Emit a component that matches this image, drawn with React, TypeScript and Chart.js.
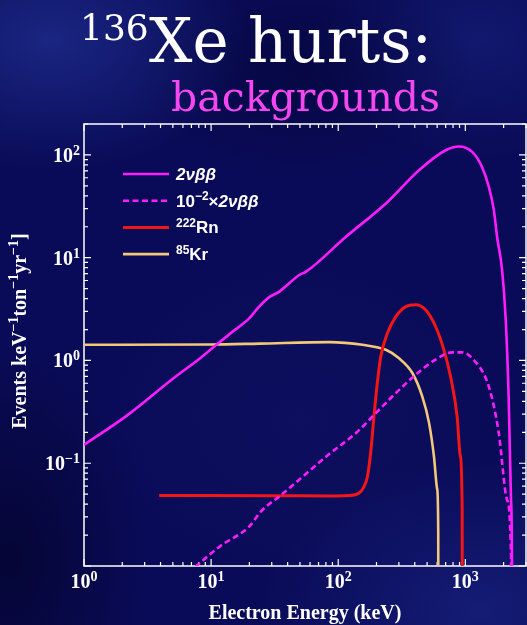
import { useEffect, useRef } from "react";
import { Chart, registerables } from "chart.js";

Chart.register(...registerables);

const WIDTH = 527;
const HEIGHT = 625;

// 2νββ spectrum of 136Xe: electron energy (keV) and rate (events keV^-1 ton^-1 yr^-1)
const twoNuEnergy = [1, 2.2, 5, 8.1, 11, 14.8, 20, 23.3, 27.9, 34.4, 49.4, 55.8, 115, 237, 432, 700, 889, 1132, 1352, 1528, 1675, 1776, 1945, 2078, 2194, 2287, 2328, 2345];
const twoNuRate = [0.151, 0.294, 0.665, 1.04, 1.42, 1.91, 2.58, 3.23, 4.04, 4.68, 6.79, 7.31, 16.0, 33.7, 71, 111, 121, 107, 76.4, 49.1, 29.2, 16.0, 7.61, 2.49, 0.416, 0.0443, 0.01, 0.00001];

// 2νββ spectrum scaled by 10^-2
const twoNuScaledEnergy = [7.5, 11.7, 20, 24, 27.1, 34.4, 85, 138, 198, 284, 406, 583, 789, 944, 1132, 1528, 1832, 2128, 2287, 2325];
const twoNuScaledRate = [0.0098, 0.0155, 0.0243, 0.0327, 0.038, 0.0475, 0.123, 0.197, 0.308, 0.482, 0.726, 1.02, 1.2, 1.2, 1.05, 0.56, 0.197, 0.044, 0.0123, 0.00001];

// 222Rn
const radonEnergy = [3.9, 10, 30, 85, 120, 145, 158, 170, 181, 191, 203, 216, 244, 284, 340, 406, 488, 583, 678, 764, 861, 914, 944, 948];
const radonRate = [0.0484, 0.0484, 0.0483, 0.048, 0.0485, 0.051, 0.058, 0.0748, 0.136, 0.286, 0.603, 1.09, 1.85, 2.67, 3.34, 3.48, 3.1, 2.14, 1.27, 0.7, 0.286, 0.117, 0.035, 0.00001];

// 85Kr
const kryptonEnergy = [1, 10, 24, 85, 155, 237, 301, 383, 458, 518, 566, 601, 612, 614];
const kryptonRate = [1.42, 1.43, 1.46, 1.51, 1.42, 1.27, 1.05, 0.755, 0.447, 0.247, 0.117, 0.0556, 0.021, 0.00001];

const xRange = [1, 3000];
const yRange = [0.01, 200];
const xTickExponents = [0, 1, 2, 3];
const yTickExponents = [-1, 0, 1, 2];

type Part = { t: string; sup?: boolean; italic?: boolean };

const seriesLabels = ["2νββ", "10⁻²×2νββ", "²²²Rn", "⁸⁵Kr"];
const legendParts: Part[][] = [
  [{ t: "2νββ", italic: true }],
  [{ t: "10" }, { t: "−2", sup: true }, { t: "×" }, { t: "2νββ", italic: true }],
  [{ t: "222", sup: true }, { t: "Rn" }],
  [{ t: "85", sup: true }, { t: "Kr" }],
];
const yTitleParts: Part[] = [
  { t: "Events keV" }, { t: "−1", sup: true },
  { t: "ton" }, { t: "−1", sup: true },
  { t: "yr" }, { t: "−1", sup: true },
  { t: "]" },
];
const xTitle = "Electron Energy (keV)";

const toPoints = (xs: number[], ys: number[]) => xs.map((x, i) => ({ x, y: ys[i] }));

type RichStyle = { family: string; weight: string; size: number; supSize: number; rise: number };

function drawRich(ctx: CanvasRenderingContext2D, parts: Part[], x: number, y: number, st: RichStyle, align: "left" | "center" | "right") {
  const fontOf = (p: Part) => `${p.italic ? "italic " : ""}${st.weight} ${p.sup ? st.supSize : st.size}px ${st.family}`;
  const widths = parts.map((p) => {
    ctx.font = fontOf(p);
    return ctx.measureText(p.t).width;
  });
  const total = widths.reduce((a, b) => a + b, 0);
  let cx = align === "center" ? x - total / 2 : align === "right" ? x - total : x;
  ctx.textAlign = "left";
  ctx.textBaseline = "alphabetic";
  parts.forEach((p, i) => {
    ctx.font = fontOf(p);
    ctx.fillText(p.t, cx, p.sup ? y - st.rise : y);
    cx += widths[i];
  });
}

const expLabel = (e: number): Part[] => [{ t: "10" }, { t: e < 0 ? `−${-e}` : `${e}`, sup: true }];

const tickFont: RichStyle = { family: "'Liberation Serif', serif", weight: "bold", size: 20, supSize: 14, rise: 7 };
const legendFont: RichStyle = { family: "'Liberation Sans', Arial, sans-serif", weight: "bold", size: 17, supSize: 12, rise: 6.5 };

const framePlugin = {
  id: "frameTicks",
  beforeDatasetsDraw(chart: any) {
    const { ctx, chartArea: a, scales } = chart;
    const xs = scales.x;
    const ys = scales.y;
    ctx.save();
    ctx.strokeStyle = "#ffffff";
    ctx.lineWidth = 1.5;
    ctx.strokeRect(a.left, a.top, a.right - a.left, a.bottom - a.top);
    ctx.lineWidth = 1.2;
    const major = 7;
    const minor = 4;
    // x ticks on bottom and top, pointing inward
    for (let d = Math.floor(Math.log10(xRange[0])); d <= Math.ceil(Math.log10(xRange[1])); d++) {
      for (let k = 1; k <= 9; k++) {
        const v = k * Math.pow(10, d);
        if (v < xRange[0] || v > xRange[1]) continue;
        const px = xs.getPixelForValue(v);
        const len = k === 1 ? major : minor;
        ctx.beginPath();
        ctx.moveTo(px, a.bottom);
        ctx.lineTo(px, a.bottom - len);
        ctx.moveTo(px, a.top);
        ctx.lineTo(px, a.top + len);
        ctx.stroke();
      }
    }
    // y ticks on left and right, pointing inward
    for (let d = Math.floor(Math.log10(yRange[0])); d <= Math.ceil(Math.log10(yRange[1])); d++) {
      for (let k = 1; k <= 9; k++) {
        const v = k * Math.pow(10, d);
        if (v < yRange[0] * 0.999 || v > yRange[1]) continue;
        const py = ys.getPixelForValue(v);
        const len = k === 1 ? major : minor;
        ctx.beginPath();
        ctx.moveTo(a.left, py);
        ctx.lineTo(a.left + len, py);
        ctx.moveTo(a.right, py);
        ctx.lineTo(a.right - len, py);
        ctx.stroke();
      }
    }
    ctx.restore();
  },
  afterDraw(chart: any) {
    const { ctx, chartArea: a, scales } = chart;
    const xs = scales.x;
    const ys = scales.y;
    ctx.save();
    ctx.fillStyle = "#ffffff";

    // tick labels
    xTickExponents.forEach((e) => {
      drawRich(ctx, expLabel(e), xs.getPixelForValue(Math.pow(10, e)), a.bottom + 22, tickFont, "center");
    });
    yTickExponents.forEach((e) => {
      drawRich(ctx, expLabel(e), a.left - 4, ys.getPixelForValue(Math.pow(10, e)) + 7, tickFont, "right");
    });

    // axis titles
    ctx.font = "bold 20px 'Liberation Serif', serif";
    ctx.textAlign = "center";
    ctx.textBaseline = "alphabetic";
    ctx.fillText(xTitle, (a.left + a.right) / 2, a.bottom + 53);
    ctx.save();
    ctx.translate(26, 331);
    ctx.rotate(-Math.PI / 2);
    drawRich(ctx, yTitleParts, 0, 0, { family: "'Liberation Serif', serif", weight: "bold", size: 20, supSize: 14, rise: 8 }, "center");
    ctx.restore();

    // legend
    chart.data.datasets.forEach((ds: any, i: number) => {
      const ly = a.top + 50 + i * 26.7;
      const lx = a.left + 39;
      ctx.save();
      ctx.strokeStyle = ds.borderColor;
      ctx.lineWidth = ds.borderWidth;
      ctx.setLineDash(ds.borderDash || []);
      ctx.beginPath();
      ctx.moveTo(lx, ly);
      ctx.lineTo(lx + 46, ly);
      ctx.stroke();
      ctx.restore();
      ctx.fillStyle = "#ffffff";
      drawRich(ctx, legendParts[i], lx + 53, ly + 6, legendFont, "left");
    });

    // page title
    ctx.fillStyle = "#ffffff";
    ctx.textAlign = "left";
    ctx.font = "36px 'DejaVu Serif', serif";
    ctx.fillText("136", 80, 40);
    ctx.font = "61px 'DejaVu Serif', serif";
    ctx.fillText("Xe hurts:", 149, 62);
    ctx.fillStyle = "#f447ef";
    ctx.font = "41px 'DejaVu Serif', serif";
    ctx.fillText("backgrounds", 171, 111);
    ctx.restore();
  },
};

export default function App() {
  const canvasRef = useRef<HTMLCanvasElement>(null);

  useEffect(() => {
    const canvas = canvasRef.current;
    if (!canvas) return;
    const common = { pointRadius: 0, fill: false, cubicInterpolationMode: "monotone" as const };
    const chart = new Chart(canvas, {
      type: "line",
      data: {
        datasets: [
          { ...common, label: seriesLabels[0], data: toPoints(twoNuEnergy, twoNuRate), borderColor: "#ff1cff", borderWidth: 2.6 },
          { ...common, label: seriesLabels[1], data: toPoints(twoNuScaledEnergy, twoNuScaledRate), borderColor: "#ff1cff", borderWidth: 2.6, borderDash: [6, 3.5] },
          { ...common, label: seriesLabels[2], data: toPoints(radonEnergy, radonRate), borderColor: "#f21616", borderWidth: 3 },
          { ...common, label: seriesLabels[3], data: toPoints(kryptonEnergy, kryptonRate), borderColor: "#f3c878", borderWidth: 2.6 },
        ],
      },
      options: {
        responsive: false,
        animation: false,
        devicePixelRatio: 1,
        layout: { padding: { left: 84, top: 124, right: 1, bottom: 59 } },
        scales: {
          x: { type: "logarithmic", min: xRange[0], max: xRange[1], display: false },
          y: { type: "logarithmic", min: yRange[0], max: yRange[1], display: false },
        },
        plugins: {
          legend: { display: false },
          tooltip: { enabled: false },
          title: { display: false },
        },
      },
      plugins: [framePlugin],
    });
    return () => chart.destroy();
  }, []);

  return (
    <div
      style={{
        position: "fixed",
        left: 0,
        top: 0,
        width: WIDTH,
        height: HEIGHT,
        overflow: "hidden",
        background: [
          "radial-gradient(ellipse 200px 130px at 50px 40px, rgba(45,70,180,0.45), transparent)",
          "radial-gradient(ellipse 220px 150px at 480px 610px, rgba(40,60,170,0.35), transparent)",
          "radial-gradient(ellipse 140px 220px at 10px 560px, rgba(0,0,25,0.55), transparent)",
          "radial-gradient(ellipse 180px 110px at 300px 70px, rgba(0,0,30,0.35), transparent)",
          "radial-gradient(ellipse 160px 120px at 480px 40px, rgba(35,55,160,0.3), transparent)",
          "radial-gradient(ellipse 200px 160px at 300px 420px, rgba(20,25,110,0.3), transparent)",
          "#0a0b58",
        ].join(", "),
      }}
    >
      <canvas ref={canvasRef} width={WIDTH} height={HEIGHT} style={{ display: "block" }} />
    </div>
  );
}
